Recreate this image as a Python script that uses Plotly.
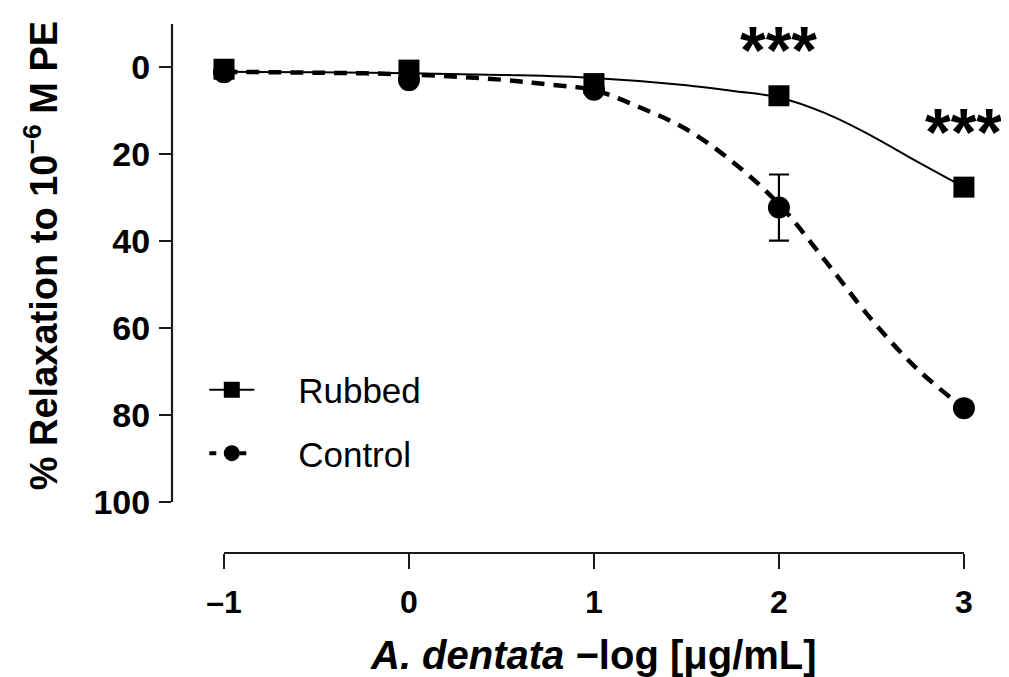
import plotly.graph_objects as go

# ---- data ----
conc = [-1, 0, 1, 2, 3]
rubbed = [0.5, 0.7, 3.8, 6.6, 27.6]
control = [1.2, 3.0, 5.2, 32.3, 78.4]
control_err = [0, 0, 0, 7.6, 0]

rub_fit_x = [-1, -0.5, 0, 0.5, 1, 1.5, 1.75, 2, 2.25, 2.5, 2.75, 3]
rub_fit_y = [1.1, 1.2, 1.4, 1.8, 2.5, 4.2, 5.5, 7.0, 10.6, 15.8, 21.8, 27.6]
ctl_fit_x = [-1, -0.5, 0, 0.5, 0.75, 1, 1.25, 1.5, 1.75, 2, 2.25, 2.5, 2.75, 3]
ctl_fit_y = [1.1, 1.3, 1.7, 2.9, 4.0, 5.3, 9.3, 14.3, 21.8, 31.5, 44.5, 58.0, 69.5, 78.4]

x_ticks = [-1, 0, 1, 2, 3]
x_tick_text = ["\u20131", "0", "1", "2", "3"]
y_ticks = [0, 20, 40, 60, 80, 100]
sig_x = [2, 3]
sig_y = [-4.0, 15.0]
sig_text = ["***", "***"]

FONT = "Liberation Sans, Arial, sans-serif"
BLACK = "#000000"
AX = "#1a1a1a"
PAD = "\u00a0" * 4

fig = go.Figure()

# fitted curves
fig.add_trace(go.Scatter(x=rub_fit_x, y=rub_fit_y, mode="lines", line_shape="spline",
                         line=dict(color=BLACK, width=2), showlegend=False, hoverinfo="skip"))
fig.add_trace(go.Scatter(x=ctl_fit_x, y=ctl_fit_y, mode="lines", line_shape="spline",
                         line=dict(color=BLACK, width=4.5, dash="13px,9px"),
                         showlegend=False, hoverinfo="skip"))

# data points
fig.add_trace(go.Scatter(x=conc, y=control, mode="markers", name="Control",
                         marker=dict(symbol="circle", size=22, color=BLACK),
                         error_y=dict(type="data", array=control_err, visible=True,
                                      color=BLACK, thickness=2.2, width=10),
                         showlegend=False))
fig.add_trace(go.Scatter(x=conc, y=rubbed, mode="markers", name="Rubbed",
                         marker=dict(symbol="square", size=21, color=BLACK),
                         showlegend=False))

# legend entries
fig.add_trace(go.Scatter(x=[None], y=[None], mode="lines+markers", name=PAD + "Rubbed",
                         line=dict(color=BLACK, width=2),
                         marker=dict(symbol="square", size=16, color=BLACK),
                         legendgroup="a"))
fig.add_trace(go.Scatter(x=[None], y=[None], mode="lines+markers", name=PAD + "Control",
                         line=dict(color=BLACK, width=4, dash="7px,8px"),
                         marker=dict(symbol="circle", size=16, color=BLACK),
                         legendgroup="b"))

for xs, ys, t in zip(sig_x, sig_y, sig_text):
    fig.add_annotation(x=xs, y=ys, text="<b>" + t + "</b>", showarrow=False,
                       font=dict(family=FONT, size=66, color=BLACK),
                       xanchor="center", yanchor="middle")

# axis lines (offset, Prism style)
fig.add_shape(type="line", xref="paper", yref="y", x0=0, x1=0, y0=-9.9, y1=100,
              line=dict(color=AX, width=2.2))
fig.add_shape(type="line", xref="x", yref="paper", x0=-1, x1=3, y0=0, y1=0,
              line=dict(color=AX, width=2.2))

# axis titles
fig.add_annotation(xref="paper", yref="paper", x=-0.158, y=0.563,
                   text="<b>% Relaxation to 10<sup>\u22126</sup> M PE</b>",
                   textangle=-90, showarrow=False, xanchor="center", yanchor="middle",
                   font=dict(family=FONT, size=38, color=BLACK))
fig.add_annotation(xref="x", yref="paper", x=1, y=-0.193,
                   text="<b><i>A. dentata</i> \u2212log [\u03bcg/mL]</b>",
                   showarrow=False, xanchor="center", yanchor="middle",
                   font=dict(family=FONT, size=40, color=BLACK))

fig.update_layout(
    width=1001, height=669,
    margin=dict(l=164, r=9, t=16, b=124),
    paper_bgcolor="white", plot_bgcolor="white",
    font=dict(family=FONT, color=BLACK),
    xaxis=dict(range=[-1.281, 3.195], showgrid=False, zeroline=False, showline=False,
               tickmode="array", tickvals=x_ticks,
               ticktext=["<b>" + t + "</b>" for t in x_tick_text],
               ticks="outside", ticklen=15, tickwidth=2.2, tickcolor=AX,
               tickfont=dict(family=FONT, size=32, color=BLACK), ticklabelstandoff=6),
    yaxis=dict(range=[111.7, -9.9], showgrid=False, zeroline=False, showline=False,
               tickmode="array", tickvals=y_ticks,
               ticktext=["<b>" + str(t) + "</b>" for t in y_ticks],
               ticks="outside", ticklen=12, tickwidth=2.2, tickcolor=AX,
               tickfont=dict(family=FONT, size=34, color=BLACK), ticklabelstandoff=2),
    showlegend=True,
    legend=dict(x=0.039, y=0.364, xanchor="left", yanchor="top",
                font=dict(family=FONT, size=35, color=BLACK),
                bgcolor="rgba(0,0,0,0)", traceorder="grouped", tracegroupgap=15,
                itemwidth=45),
)

fig.write_html("out.html")
